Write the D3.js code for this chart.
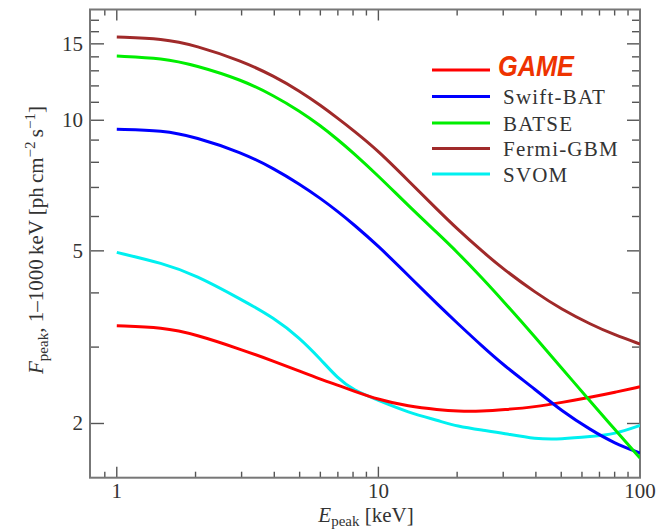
<!DOCTYPE html>
<meta charset="utf-8">
<script src="https://d3js.org/d3.v7.min.js"></script>
<style>
  body { margin: 0; background: #fff; }
</style>
<div id="chart"></div>
<script>
// peak energy grid (keV) and peak flux for each instrument (ph cm^-2 s^-1)
const energy   = [1, 1.5, 2, 3, 4, 5, 6, 7, 8, 10, 13, 17, 20, 25, 30, 40, 50, 65, 80, 100];
const game     = [3.36, 3.33, 3.21, 2.96, 2.78, 2.64, 2.53, 2.45, 2.38, 2.27, 2.19, 2.15, 2.135, 2.135, 2.15, 2.185, 2.235, 2.30, 2.36, 2.43];
const swiftBat = [9.53, 9.48, 9.15, 8.43, 7.73, 7.12, 6.61, 6.16, 5.77, 5.13, 4.39, 3.74, 3.41, 3.01, 2.73, 2.39, 2.14, 1.93, 1.80, 1.71];
const batse    = [14.06, 13.91, 13.39, 12.4, 11.38, 10.5, 9.72, 9.02, 8.42, 7.44, 6.36, 5.46, 4.97, 4.32, 3.83, 3.15, 2.69, 2.24, 1.94, 1.665];
const fermiGbm = [15.55, 15.42, 14.88, 13.7, 12.63, 11.67, 10.83, 10.1, 9.49, 8.5, 7.26, 6.18, 5.62, 4.98, 4.54, 4.00, 3.67, 3.38, 3.20, 3.05];
const svom     = [4.96, 4.68, 4.4, 3.86, 3.5, 3.15, 2.815, 2.54, 2.39, 2.26, 2.12, 2.03, 1.97, 1.93, 1.90, 1.84, 1.84, 1.866, 1.89, 1.98];

const seriesNames  = ["GAME", "Swift-BAT", "BATSE", "Fermi-GBM", "SVOM"];
const seriesValues = [game, swiftBat, batse, fermiGbm, svom];
const colors       = ["#ff0000", "#0000ff", "#00ee00", "#a02a2a", "#00f0f0"];

const xMajor = [1, 10, 100];
const xMinor = [0.9, 2, 3, 4, 5, 6, 7, 8, 9, 20, 30, 40, 50, 60, 70, 80, 90];
const yMajor = [2, 5, 10, 15];
const yMinor = [3, 4, 6, 7, 8, 9, 11, 12, 13, 14, 16, 17];

const W = 657, H = 529;
const plot = {left: 90, right: 640, top: 9.5, bottom: 477.7};
const serif = "'Liberation Serif', 'DejaVu Serif', serif";

const svg = d3.select("#chart").append("svg")
    .attr("width", W)
    .attr("height", H)
    .attr("font-family", serif)
    .attr("fill", "#333");

const x = d3.scaleLog().domain([0.79, 100]).range([plot.left, plot.right]);
const y = d3.scaleLog().domain([1.5, 18]).range([plot.bottom, plot.top]);

svg.append("clipPath").attr("id", "clip")
  .append("rect")
    .attr("x", plot.left).attr("y", plot.top)
    .attr("width", plot.right - plot.left).attr("height", plot.bottom - plot.top);

// ticks, drawn inward on all four sides
const tickG = svg.append("g").attr("stroke", "#555").attr("stroke-width", 1.4);
function xTicks(vals, len) {
  vals.forEach(v => {
    tickG.append("line").attr("x1", x(v)).attr("x2", x(v)).attr("y1", plot.bottom).attr("y2", plot.bottom - len);
    tickG.append("line").attr("x1", x(v)).attr("x2", x(v)).attr("y1", plot.top).attr("y2", plot.top + len);
  });
}
function yTicks(vals, lenL, lenR) {
  vals.forEach(v => {
    tickG.append("line").attr("y1", y(v)).attr("y2", y(v)).attr("x1", plot.left).attr("x2", plot.left + lenL);
    tickG.append("line").attr("y1", y(v)).attr("y2", y(v)).attr("x1", plot.right).attr("x2", plot.right - lenR);
  });
}
xTicks(xMajor, 11);
xTicks(xMinor, 6);
yTicks(yMajor, 14, 13);
yTicks(yMinor, 9, 8);

// frame
svg.append("rect")
    .attr("x", plot.left).attr("y", plot.top)
    .attr("width", plot.right - plot.left).attr("height", plot.bottom - plot.top)
    .attr("fill", "none").attr("stroke", "#777").attr("stroke-width", 2);

// tick labels
svg.selectAll(".xlab").data(xMajor).join("text")
    .attr("x", d => x(d)).attr("y", 498)
    .attr("text-anchor", "middle")
    .attr("font-size", 21)
    .text(d => d);
svg.selectAll(".ylab").data(yMajor).join("text")
    .attr("x", 83).attr("y", d => y(d) + 7)
    .attr("text-anchor", "end")
    .attr("font-size", 21)
    .text(d => d);

// curves
const line = d3.line()
    .x(d => x(d[0]))
    .y(d => y(d[1]))
    .curve(d3.curveBasis);

const curves = svg.append("g").attr("clip-path", "url(#clip)");
[4, 0, 1, 2, 3].forEach(i => {
  curves.append("path")
      .datum(energy.map((e, j) => [e, seriesValues[i][j]]))
      .attr("fill", "none")
      .attr("stroke", colors[i])
      .attr("stroke-width", 3)
      .attr("d", line);
});

// legend
const legY = [70, 96.5, 123, 148.5, 174];
seriesNames.forEach((name, i) => {
  svg.append("line")
      .attr("x1", 432).attr("x2", 490)
      .attr("y1", legY[i]).attr("y2", legY[i])
      .attr("stroke", colors[i]).attr("stroke-width", 3);
  if (i === 0) {
    svg.append("text")
        .attr("x", 498).attr("y", 75.5)
        .attr("font-family", "'Liberation Sans', Arial, sans-serif")
        .attr("font-weight", "bold")
        .attr("font-style", "italic")
        .attr("fill", "#ee3300")
        .attr("font-size", 30)
        .attr("textLength", 76)
        .attr("lengthAdjust", "spacingAndGlyphs")
        .text(name);
  } else {
    svg.append("text")
        .attr("x", 503).attr("y", legY[i] + 7.5)
        .attr("font-size", 21)
        .attr("letter-spacing", 1.2)
        .text(name);
  }
});

// x axis title
const xt = svg.append("text")
    .attr("x", 366).attr("y", 522)
    .attr("text-anchor", "middle")
    .attr("font-size", 21);
xt.append("tspan").attr("font-style", "italic").text("E");
xt.append("tspan").attr("font-size", 15).attr("dy", 4).text("peak");
xt.append("tspan").attr("dy", -4).text(" [keV]");

// y axis title
const yt = svg.append("text")
    .attr("transform", "translate(43,240) rotate(-90)")
    .attr("text-anchor", "middle")
    .attr("font-size", 21);
yt.append("tspan").attr("font-style", "italic").text("F");
yt.append("tspan").attr("font-size", 15).attr("dy", 5).text("peak");
yt.append("tspan").attr("dy", -5).text(", 1\u20131000\u2009keV [ph\u2009cm");
yt.append("tspan").attr("font-size", 15).attr("dy", -8).text("\u22122");
yt.append("tspan").attr("dy", 8).text("\u2009s");
yt.append("tspan").attr("font-size", 15).attr("dy", -8).text("\u22121");
yt.append("tspan").attr("dy", 8).text("]");
</script>
